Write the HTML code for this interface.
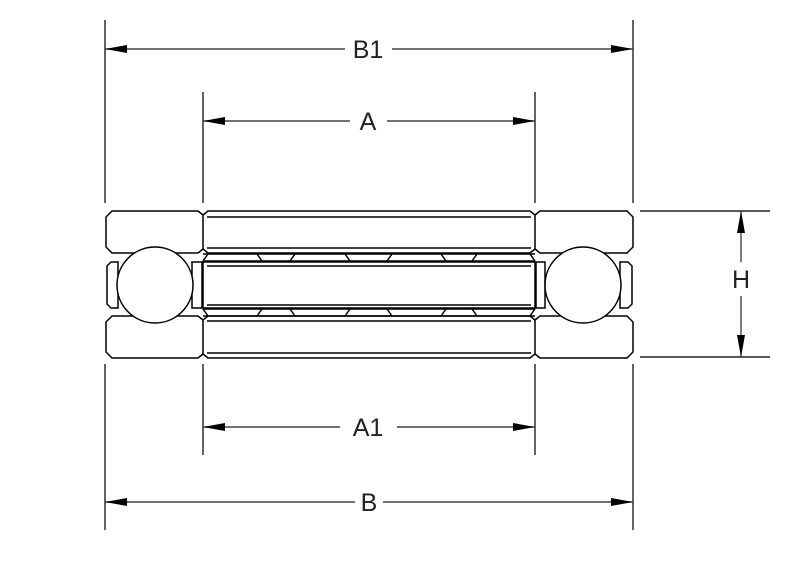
<!DOCTYPE html>
<html><head><style>html,body{margin:0;padding:0;background:#fff}svg{display:block}</style></head>
<body>
<svg width="800" height="571" viewBox="0 0 800 571" xmlns="http://www.w3.org/2000/svg">
<defs>
<marker id="ar" viewBox="0 0 22 8" refX="22" refY="4" markerWidth="22" markerHeight="8" markerUnits="userSpaceOnUse" orient="auto-start-reverse">
<path d="M22,4 L0,0 L0,8 Z" fill="#000"/>
</marker>
</defs>
<g stroke="#222" stroke-width="1.4" fill="none">
<line x1="105" y1="20" x2="105" y2="203"/>
<line x1="633" y1="20" x2="633" y2="203"/>
<line x1="203" y1="92" x2="203" y2="203"/>
<line x1="535" y1="92" x2="535" y2="203"/>
<line x1="105" y1="364" x2="105" y2="530"/>
<line x1="633" y1="364" x2="633" y2="530"/>
<line x1="203" y1="364" x2="203" y2="455"/>
<line x1="535" y1="364" x2="535" y2="455"/>
<line x1="640" y1="211" x2="770" y2="211"/>
<line x1="640" y1="357" x2="770" y2="357"/>
</g>
<g stroke="#444" stroke-width="1.4" fill="none">
<line x1="105" y1="49" x2="345" y2="49" marker-start="url(#ar)"/>
<line x1="392" y1="49" x2="633" y2="49" marker-end="url(#ar)"/>
<line x1="203" y1="121" x2="350" y2="121" marker-start="url(#ar)"/>
<line x1="387" y1="121" x2="535" y2="121" marker-end="url(#ar)"/>
<line x1="203" y1="427" x2="340" y2="427" marker-start="url(#ar)"/>
<line x1="397" y1="427" x2="535" y2="427" marker-end="url(#ar)"/>
<line x1="105" y1="502" x2="355" y2="502" marker-start="url(#ar)"/>
<line x1="383" y1="502" x2="633" y2="502" marker-end="url(#ar)"/>
<line x1="741" y1="211" x2="741" y2="262" marker-start="url(#ar)"/>
<line x1="741" y1="296" x2="741" y2="357" marker-end="url(#ar)"/>
</g>
<g font-family="'Liberation Sans',sans-serif" font-size="25" fill="#222" text-anchor="middle">
<text x="368" y="58">B1</text>
<text x="368" y="130">A</text>
<text x="368" y="436">A1</text>
<text x="369" y="511">B</text>
<text x="741" y="288">H</text>
</g>
<g stroke="#000" stroke-width="1.5" fill="none">
<path d="M112,211 L198,211 L203,215 L208,211 L530,211 L535,215 L540,211 L627,211 L633,217 L633,247 L627,253 L540,253 L535,249 L530,253 L208,253 L203,249 L198,253 L112,253 L106,247 L106,217 Z"/>
<line x1="203" y1="215" x2="203" y2="249"/>
<line x1="535" y1="215" x2="535" y2="249"/>
<line x1="207" y1="217" x2="531" y2="217"/>
<line x1="207" y1="248" x2="531" y2="248"/>
<path d="M112,316 L198,316 L203,320 L208,316 L530,316 L535,320 L540,316 L627,316 L633,322 L633,352 L627,358 L540,358 L535,354 L530,358 L208,358 L203,354 L198,358 L112,358 L106,352 L106,322 Z"/>
<line x1="203" y1="320" x2="203" y2="354"/>
<line x1="535" y1="320" x2="535" y2="354"/>
<line x1="207" y1="321" x2="531" y2="321"/>
<line x1="207" y1="353" x2="531" y2="353"/>
<line x1="203" y1="254" x2="535" y2="254"/>
<line x1="203" y1="261" x2="535" y2="261"/>
<line x1="203" y1="309" x2="535" y2="309"/>
<line x1="203" y1="316" x2="535" y2="316"/>
<path d="M203,261 L208,254 M257,254 L262,261 M290,261 L295,254 M345,254 L350,261 M387,261 L392,254 M441,254 L446,261 M472,261 L477,254 M530,254 L535,261"/>
<path d="M203,309 L208,316 M257,316 L262,309 M290,309 L295,316 M345,316 L350,309 M387,309 L392,316 M441,316 L446,309 M472,309 L477,316 M530,316 L535,309"/>
<rect x="203" y="262" width="332" height="46"/>
<line x1="207" y1="266" x2="531" y2="266"/>
<line x1="207" y1="305" x2="531" y2="305"/>
<path d="M111,262 L118,262 L118,308 L111,308 L107,304 L107,266 Z"/>
<path d="M192,262 L202,262 L202,308 L192,308 Z"/>
<path d="M536,262 L545,262 L545,308 L536,308 Z"/>
<path d="M620,262 L628,262 L632,266 L632,304 L628,308 L620,308 Z"/>
<circle cx="155" cy="285" r="38" fill="#fff"/>
<circle cx="583" cy="285" r="38" fill="#fff"/>
</g>
</svg>
</body></html>
